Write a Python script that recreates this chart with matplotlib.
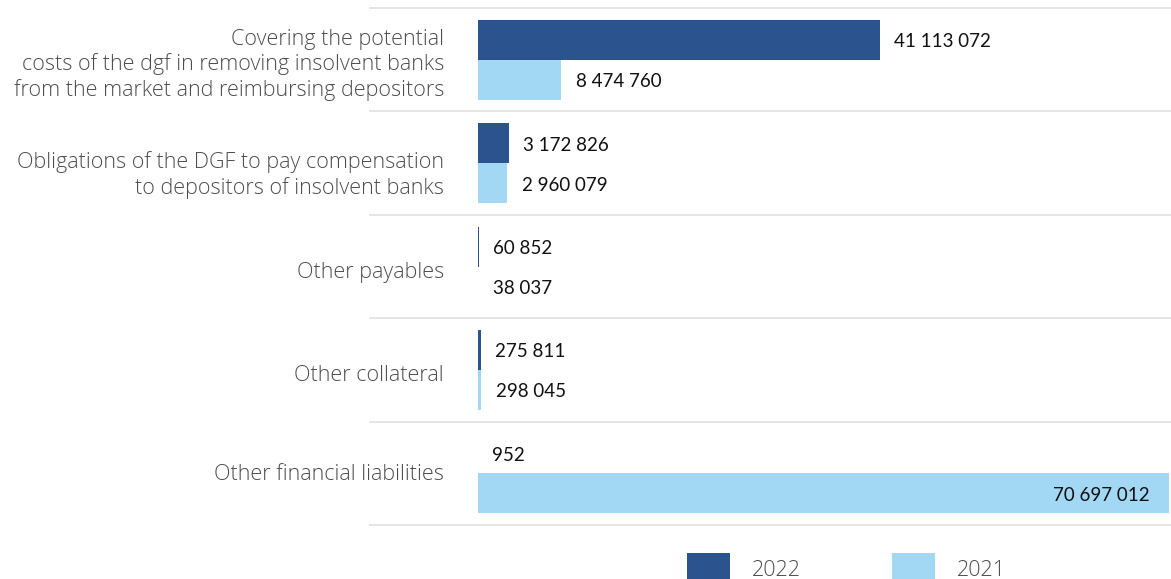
import matplotlib
matplotlib.use("Agg")
import matplotlib.pyplot as plt
from matplotlib.patches import Rectangle
from matplotlib.lines import Line2D
from matplotlib.transforms import blended_transform_factory, offset_copy

categories = [
    "Covering the potential\ncosts of the dgf in removing insolvent banks\nfrom the market and reimbursing depositors",
    "Obligations of the DGF to pay compensation\nto depositors of insolvent banks",
    "Other payables",
    "Other collateral",
    "Other financial liabilities",
]
values_2022 = [41113072, 3172826, 60852, 275811, 952]
values_2021 = [8474760, 2960079, 38037, 298045, 70697012]
series_labels = ["2022", "2021"]

DARK = "#2b538e"
LIGHT = "#a3d8f5"
GRID = "#e3e3e3"
LABEL_GRAY = "#4d4d4d"
LABEL_FONT = "Open Sans"
LABEL_SIZE = 15.5

W, H = 1171, 579
fig = plt.figure(figsize=(W / 100, H / 100), dpi=100)

# axes spans from the bar origin to the right edge, top separator to bottom separator
ax_left, ax_right = 478, 1171
ax_top, ax_bottom = 8, 525
ax = fig.add_axes([ax_left / W, (H - ax_bottom) / H,
                   (ax_right - ax_left) / W, (ax_bottom - ax_top) / H])

xmax = max(values_2021) * (ax_right - ax_left) / (1169 - ax_left)
ax.set_xlim(0, xmax)
ax.set_ylim(len(categories) - 0.5, -0.5)

bh = 0.386
ys = list(range(len(categories)))
ax.barh([y - bh / 2 for y in ys], values_2022, height=bh, color=DARK, linewidth=0)
ax.barh([y + bh / 2 for y in ys], values_2021, height=bh, color=LIGHT, linewidth=0)


def fmt(v):
    return f"{v:,}".replace(",", " ")


val_font = dict(family="Lato", fontsize=13.5, color="#111111", va="center")
for y, v in zip(ys, values_2022):
    ax.annotate(fmt(v), (v, y - bh / 2), xytext=(14, -2), textcoords="offset pixels",
                ha="left", **val_font)
for y, v in zip(ys, values_2021):
    if v > 0.8 * xmax:
        ax.annotate(fmt(v), (v, y + bh / 2), xytext=(-19, -2), textcoords="offset pixels",
                    ha="right", **val_font)
    else:
        ax.annotate(fmt(v), (v, y + bh / 2), xytext=(15, -2), textcoords="offset pixels",
                    ha="left", **val_font)

# separators between category groups
sep_tr = blended_transform_factory(fig.transFigure, ax.transData)
for k in range(len(categories) + 1):
    yy = k - 0.5
    fig.add_artist(Line2D([370 / W, 1.0], [yy, yy], transform=sep_tr,
                          color=GRID, lw=1.3, clip_on=False))

# category labels, right-aligned left of the bars (small per-label vertical nudges)
label_dy = [-5, -12, -6, -6, -1]
base_tr = blended_transform_factory(ax.transAxes, ax.transData)
for y, name, dy in zip(ys, categories, label_dy):
    tr = offset_copy(base_tr, fig=fig, x=-34, y=dy, units="dots")
    ax.text(0, y, name, transform=tr, ha="right", va="center",
            family=LABEL_FONT, fontweight=300, fontsize=LABEL_SIZE,
            color=LABEL_GRAY, linespacing=1.2, multialignment="right")

ax.set_yticks([])
ax.set_xticks([])
for s in ax.spines.values():
    s.set_visible(False)

# legend
for x0, col, lab in [(687, DARK, series_labels[0]), (892, LIGHT, series_labels[1])]:
    fig.add_artist(Rectangle((x0 / W, (H - 584) / H), 43 / W, 31 / H,
                             transform=fig.transFigure, color=col, lw=0))
    fig.text((x0 + 65) / W, (H - 570) / H, lab, family=LABEL_FONT, fontweight=300,
             fontsize=LABEL_SIZE, color=LABEL_GRAY, va="center", ha="left")

fig.savefig("out.png", dpi=100)
